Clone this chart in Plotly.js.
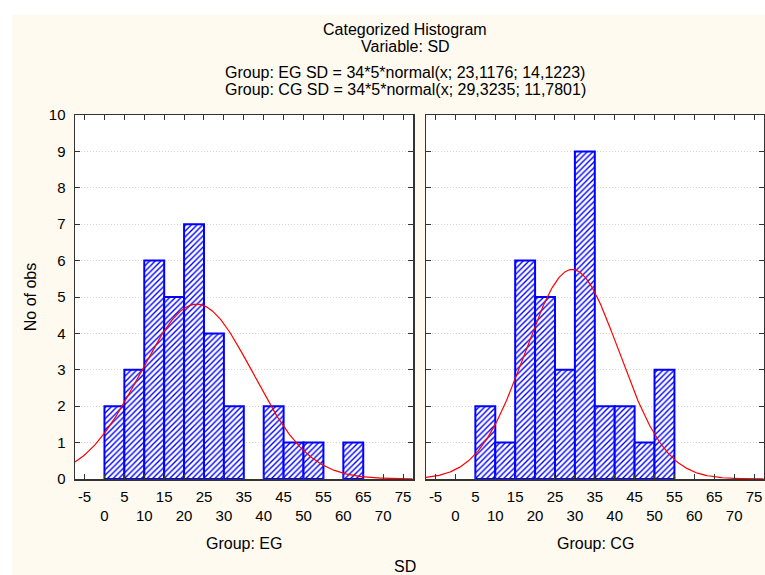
<!DOCTYPE html>
<html>
<head>
<meta charset="utf-8">
<script src="https://cdn.plot.ly/plotly-3.0.1.min.js"></script>
<style>
  html, body { margin: 0; padding: 0; background: #ffffff; }
  #chart { position: absolute; left: 12px; top: 15px; width: 753px; height: 560px; }
</style>
</head>
<body>
<div id="chart"></div>
<script>
// ---- data ----
const binStarts = [0, 5, 10, 15, 20, 25, 30, 35, 40, 45, 50, 55, 60];
const countsEG  = [2, 3, 6, 5, 7, 4, 2, 0, 2, 1, 1, 0, 1];
const countsCG  = [0, 2, 1, 6, 5, 3, 9, 2, 2, 1, 3, 0, 0];
const binWidth = 5;
const nObs = 34;
const meanEG = 23.1176, sdEG = 14.1223;
const meanCG = 29.3235, sdCG = 11.7801;
const groupLabels = ["Group: EG", "Group: CG"];
const tickUpper = [-5, 5, 15, 25, 35, 45, 55, 65, 75];
const tickLower = [0, 10, 20, 30, 40, 50, 60, 70];
const yTicks = [0, 1, 2, 3, 4, 5, 6, 7, 8, 9, 10];
const titleLines = [
  "Categorized Histogram",
  "Variable: SD",
  "Group: EG SD = 34*5*normal(x; 23,1176; 14,1223)",
  "Group: CG SD = 34*5*normal(x; 29,3235; 11,7801)"
];
const xRange = [-7.4, 77.5];

// ---- derived ----
function barsFor(counts) {
  const xs = [], ys = [];
  counts.forEach((c, i) => { if (c > 0) { xs.push(binStarts[i] + binWidth / 2); ys.push(c); } });
  return {xs, ys};
}
function normalCurve(mu, sigma) {
  const xs = [], ys = [];
  for (let x = xRange[0]; x <= xRange[1] + 1e-9; x += 0.25) {
    const z = (x - mu) / sigma;
    xs.push(x);
    ys.push(nObs * binWidth * Math.exp(-0.5 * z * z) / (sigma * Math.sqrt(2 * Math.PI)));
  }
  return {xs, ys};
}
const tickVals = [], tickText = [];
tickUpper.forEach(v => { tickVals.push(v); tickText.push(String(v)); });
tickLower.forEach(v => { tickVals.push(v); tickText.push("<br>" + v); });

const FONT = "Liberation Sans, Arial, sans-serif";
const blue = "#0000ff";
const barStyle = {
  color: "#ffffff",
  line: {color: blue, width: 2},
  pattern: {shape: "/", fgcolor: blue, bgcolor: "#ffffff", size: 4, solidity: 0.35}
};

const eg = barsFor(countsEG), cg = barsFor(countsCG);
const cEG = normalCurve(meanEG, sdEG), cCG = normalCurve(meanCG, sdCG);

const traces = [
  {type: "bar", x: eg.xs, y: eg.ys, width: binWidth, marker: barStyle, xaxis: "x", yaxis: "y", hoverinfo: "x+y"},
  {type: "scatter", mode: "lines", x: cEG.xs, y: cEG.ys, line: {color: "#ff0000", width: 1.2}, xaxis: "x", yaxis: "y", cliponaxis: true},
  {type: "bar", x: cg.xs, y: cg.ys, width: binWidth, marker: barStyle, xaxis: "x2", yaxis: "y2", hoverinfo: "x+y"},
  {type: "scatter", mode: "lines", x: cCG.xs, y: cCG.ys, line: {color: "#ff0000", width: 1.2}, xaxis: "x2", yaxis: "y2", cliponaxis: true}
];

const xAxisBase = {
  range: xRange, tickmode: "array", tickvals: tickVals, ticktext: tickText,
  ticks: "inside", ticklen: 5, tickcolor: "#333", showline: true, linecolor: "#333", linewidth: 1.5,
  mirror: "ticks", showgrid: false, zeroline: false, tickfont: {size: 15, color: "#000"},
  ticklabelstandoff: 3
};
const yAxisBase = {
  range: [0, 10], tickmode: "array", tickvals: yTicks,
  ticks: "inside", ticklen: 5, tickcolor: "#333", showline: true, linecolor: "#333", linewidth: 1.5,
  mirror: "ticks", showgrid: true, gridcolor: "#d4d4d4", griddash: "1px,2px", gridwidth: 1,
  zeroline: false, tickfont: {size: 15, color: "#000"}, ticklabelstandoff: 5
};

const H = 364; // plot height in px
const yAbs = (Y) => (479 - Y) / H;
const xAbs = (X) => (X - 75) / 689;
const annotations = [];
const titleY = [30, 46, 73, 89];
titleLines.forEach((t, i) => annotations.push({
  text: t, xref: "paper", yref: "paper", x: xAbs(405), y: yAbs(titleY[i]), xanchor: "center", yanchor: "middle",
  showarrow: false, font: {size: 16, color: "#000", family: FONT}
}));
const dom1 = [0, 338 / 689], dom2 = [351 / 689, 1];
annotations.push({text: groupLabels[0], xref: "paper", yref: "paper", x: (dom1[0] + dom1[1]) / 2, y: yAbs(543),
  xanchor: "center", yanchor: "middle", showarrow: false, font: {size: 16, color: "#000", family: FONT}});
annotations.push({text: groupLabels[1], xref: "paper", yref: "paper", x: (dom2[0] + dom2[1]) / 2, y: yAbs(543),
  xanchor: "center", yanchor: "middle", showarrow: false, font: {size: 16, color: "#000", family: FONT}});
annotations.push({text: "SD", xref: "paper", yref: "paper", x: xAbs(405), y: yAbs(566),
  xanchor: "center", yanchor: "middle", showarrow: false, font: {size: 16, color: "#000", family: FONT}});

const layout = {
  width: 753, height: 560,
  margin: {l: 63, r: 1, t: 100, b: 96},
  paper_bgcolor: "#fefaf0", plot_bgcolor: "#ffffff",
  font: {family: FONT, size: 15, color: "#000"},
  showlegend: false, bargap: 0,
  xaxis: Object.assign({}, xAxisBase, {domain: dom1, anchor: "y"}),
  xaxis2: Object.assign({}, xAxisBase, {domain: dom2, anchor: "y2"}),
  yaxis: Object.assign({}, yAxisBase, {anchor: "x", title: {text: "No of obs", standoff: 8, font: {size: 16}}}),
  yaxis2: Object.assign({}, yAxisBase, {anchor: "x2", matches: "y", showticklabels: false}),
  annotations: annotations
};

Plotly.newPlot("chart", traces, layout, {displayModeBar: false, staticPlot: true});
</script>
</body>
</html>
